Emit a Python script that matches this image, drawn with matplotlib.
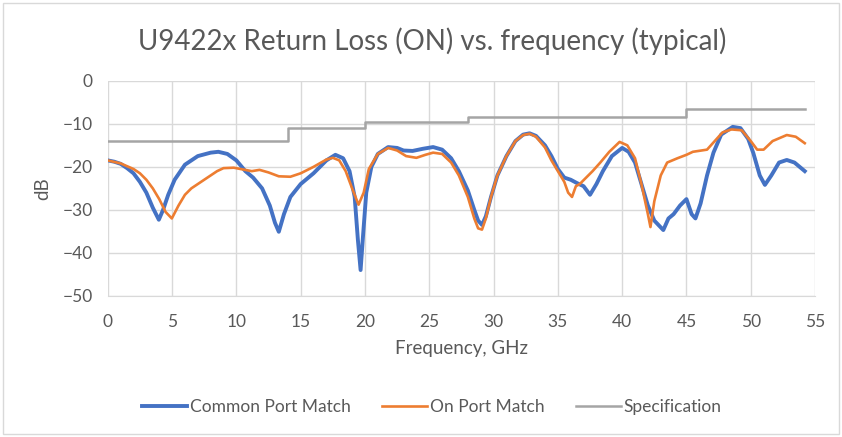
import numpy as np
import matplotlib.pyplot as plt
from matplotlib.patches import Rectangle

plt.rcParams['font.family'] = ['Lato', 'DejaVu Sans']

# Common Port Match (blue)
common_f = [0, 0.5, 1, 1.5, 2, 2.5, 3, 3.5, 3.97, 4.3, 4.7, 5.2, 6, 7, 8, 8.6, 9.3, 10,
            10.7, 11.3, 12, 12.6, 13.0, 13.3, 13.7, 14.2, 15, 16, 17, 17.7, 18.3, 18.8,
            19.2, 19.45, 19.66, 19.85, 20.1, 20.5, 21, 21.8, 22.5, 23, 23.7, 24.5, 25.3,
            26, 26.7, 27.3, 28, 28.5, 28.8, 29.1, 29.4, 29.8, 30.3, 31, 31.7, 32.3, 32.8,
            33.3, 34, 34.5, 35, 35.5, 36, 36.5, 37, 37.5, 38, 38.5, 39.2, 40, 40.5, 41,
            41.5, 42, 42.5, 43.2, 43.6, 44, 44.5, 45, 45.4, 45.7, 46.1, 46.6, 47.1, 47.7,
            48.6, 49.2, 49.8, 50.2, 50.7, 51.1, 51.6, 52.2, 52.8, 53.4, 54.2]
common_db = [-18.5, -18.8, -19.3, -20.3, -21.5, -23.5, -26, -29.5, -32.3, -30, -26.5, -23,
             -19.5, -17.5, -16.7, -16.5, -17, -18.5, -21, -22.5, -25, -29, -33, -35.1, -31,
             -27, -24, -21.5, -18.5, -17.2, -18, -21, -27, -37, -44, -36, -26, -20, -17,
             -15.4, -15.6, -16.2, -16.3, -15.8, -15.4, -16, -18, -21, -25.5, -30, -32.5,
             -33.5, -31.5, -27, -22, -17.5, -14, -12.5, -12.2, -12.8, -15, -17.5, -20.5,
             -22.5, -23, -23.8, -24.5, -26.5, -24, -21, -17.5, -15.6, -16.5, -19, -24, -29,
             -32.5, -34.7, -32, -31, -29, -27.5, -31, -32, -28.5, -22, -16.7, -12.5, -10.7,
             -11, -13.5, -16.8, -22, -24.2, -22, -19, -18.4, -19, -21]

# On Port Match (orange)
on_f = [0, 1, 2, 2.5, 3, 3.5, 4, 4.5, 4.98, 5.5, 6, 6.5, 7, 7.5, 8, 8.5, 9, 9.8, 10.5,
        11.2, 11.8, 12.5, 13.3, 14.2, 15, 16, 17, 17.5, 18, 18.5, 19, 19.5, 19.9, 20.3,
        21, 21.8, 22.5, 23.2, 24, 24.7, 25.3, 26, 26.7, 27.3, 28, 28.5, 28.8, 29.1, 29.4,
        29.8, 30.3, 31, 31.7, 32.3, 32.8, 33.3, 34, 34.5, 35, 35.5, 35.8, 36.1, 36.4,
        36.7, 37.2, 37.7, 38.3, 39, 39.8, 40.4, 41, 41.5, 42.0, 42.2, 42.5, 43, 43.5,
        44.3, 45, 45.5, 46.6, 47.2, 47.8, 48.5, 49.3, 50, 50.5, 51, 51.7, 52.8, 53.5, 54.2]
on_db = [-18.5, -19.2, -20.5, -21.5, -23, -25, -27.5, -30.5, -32, -29, -26.5, -25, -24,
         -23, -22, -21, -20.3, -20.2, -20.6, -21, -20.7, -21.3, -22.2, -22.3, -21.5, -20,
         -18.3, -17.9, -18.5, -21, -25, -28.8, -26, -20.5, -17, -15.6, -16.2, -17.5, -17.9,
         -17.2, -16.7, -17, -19, -22, -27, -32, -34.3, -34.6, -32, -27, -22, -17.5, -14,
         -12.6, -12.3, -13, -15.5, -18.5, -21, -23.5, -26, -27, -24.5, -24, -22.5, -21,
         -19, -16.5, -14.2, -15, -18, -24, -31, -34, -28, -22, -19, -18, -17.2, -16.5, -16,
         -14, -12, -11.3, -11.5, -14, -16, -16, -14, -12.6, -13, -14.5]

# Specification (step)
spec_f = [0, 14, 14, 20, 20, 28, 28, 45, 45, 54.2]
spec_db = [-14, -14, -11, -11, -9.5, -9.5, -8.5, -8.5, -6.5, -6.5]

fig = plt.figure(figsize=(8.42, 4.37), dpi=100)
ax = fig.add_axes([0.128, 0.323, 0.840, 0.492])

ax.plot(common_f, common_db, color='#4472C4', lw=2.8, label='Common Port Match', zorder=3)
ax.plot(on_f, on_db, color='#ED7D31', lw=1.9, label='On Port Match', zorder=4)
ax.plot(spec_f, spec_db, color='#A5A5A5', lw=1.8, label='Specification', zorder=2)

ax.set_xlim(0, 55)
ax.set_ylim(-50, 0)
ax.set_xticks(range(0, 56, 5))
ax.set_yticks(range(-50, 1, 10))
ax.grid(True, color='#D9D9D9', lw=1)
ax.set_axisbelow(True)
for s in ['top', 'right', 'left']:
    ax.spines[s].set_visible(False)
ax.spines['bottom'].set_color('#D9D9D9')
ax.tick_params(length=0, labelsize=12.5, colors='#595959')
ax.tick_params(axis='x', pad=13)
ax.tick_params(axis='y', pad=11)

ax.set_xlabel('Frequency, GHz', fontsize=13.5, color='#595959', labelpad=7)
ax.set_ylabel('dB', fontsize=13.5, color='#595959', labelpad=8)
fig.text(0.513, 0.906, 'U9422x Return Loss (ON) vs. frequency (typical)',
         ha='center', va='center', fontsize=20, color='#595959')

fig.legend(loc='center', bbox_to_anchor=(0.513, 0.069), ncol=3, frameon=False,
           fontsize=12.5, handlelength=2.6, columnspacing=1.8, handletextpad=0.15,
           labelcolor='#595959')

fig.add_artist(Rectangle((0.004, 0.006), 0.992, 0.988, transform=fig.transFigure,
                         fill=False, edgecolor='#D9D9D9', lw=1))

fig.savefig('out.png', dpi=100)
